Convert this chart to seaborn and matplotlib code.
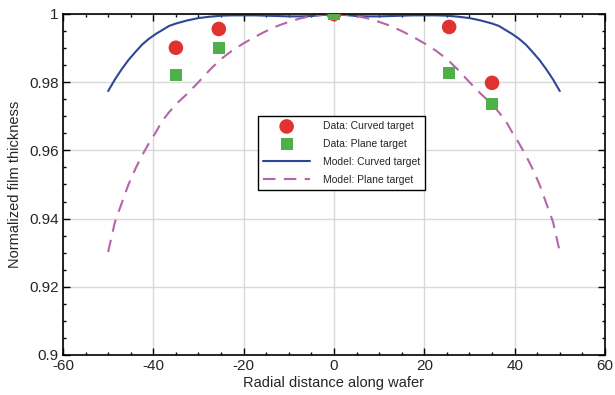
import numpy as np
import pandas as pd
import matplotlib
matplotlib.use("Agg")
import matplotlib.pyplot as plt
import seaborn as sns
from matplotlib.ticker import MultipleLocator, FuncFormatter

# Measured data
data_x = [-35, -25.5, 0, 25.5, 35]
data_curved = [0.9901, 0.9956, 1.0, 0.9962, 0.9798]
data_plane = [0.9821, 0.9900, 1.0, 0.9827, 0.9736]

# Model curves (symmetric about 0)
model_x = [-50, -48.5, -47, -45.5, -44, -42.5, -41, -39.5, -38, -36.5, -35,
           -32.5, -30, -27.5, -25, -22.5, -20, -17.5, -15, -12.5, -10, -7.5, -5, -2.5, 0,
           2.5, 5, 7.5, 10, 12.5, 15, 17.5, 20, 22.5, 25, 27.5, 30, 32.5,
           35, 36.5, 38, 39.5, 41, 42.5, 44, 45.5, 47, 48.5, 50]
model_curved = [0.9774, 0.9808, 0.9838, 0.9865, 0.9888, 0.9910, 0.9927, 0.9941,
                0.9953, 0.9965, 0.9972,
                0.9981, 0.9988, 0.9992, 0.9995, 0.9996, 0.9996, 0.9996, 0.9995,
                0.9994, 0.9993, 0.9993, 0.9994, 0.9997, 1.0,
                0.9997, 0.9994, 0.9993, 0.9993, 0.9994, 0.9995, 0.9996, 0.9996,
                0.9996, 0.9995, 0.9992, 0.9988, 0.9981,
                0.9972, 0.9965, 0.9953, 0.9941, 0.9927, 0.9910, 0.9888, 0.9865,
                0.9838, 0.9808, 0.9774]
model_plane = [0.9302, 0.9390, 0.9445, 0.9500, 0.9545, 0.9585, 0.9620, 0.9652,
               0.9687, 0.9712, 0.9735,
               0.9766, 0.9800, 0.9836, 0.9868, 0.9893, 0.9914, 0.9933, 0.9950,
               0.9965, 0.9977, 0.9987, 0.9994, 0.9998, 1.0,
               0.9998, 0.9994, 0.9987, 0.9977, 0.9965, 0.9950, 0.9933, 0.9914,
               0.9893, 0.9868, 0.9836, 0.9800, 0.9766,
               0.9735, 0.9712, 0.9687, 0.9652, 0.9620, 0.9585, 0.9545, 0.9500,
               0.9445, 0.9390, 0.9302]

sns.set_theme(style="ticks")
plt.rcParams['font.family'] = ['Liberation Sans', 'DejaVu Sans']

fig = plt.figure(figsize=(6.15, 3.95), dpi=100)
ax = fig.add_axes([0.1024, 0.1013, 0.9837 - 0.1024, 0.9646 - 0.1013])

red = "#e0332f"
green = "#4fb04a"
blue = "#2d4796"
pink = "#b565a8"

sns.lineplot(x=model_x, y=model_curved, ax=ax, color=blue, lw=1.5,
             label="Model: Curved target", sort=False)
sns.lineplot(x=model_x, y=model_plane, ax=ax, color=pink, lw=1.5,
             label="Model: Plane target", sort=False)
ax.lines[-1].set_dashes([6, 4])
sns.scatterplot(x=data_x, y=data_curved, ax=ax, color=red, marker="o", s=110,
                edgecolor="none", label="Data: Curved target", zorder=3)
sns.scatterplot(x=data_x, y=data_plane, ax=ax, color=green, marker="s", s=75,
                edgecolor="none", label="Data: Plane target", zorder=3)

ax.set_xlim(-60, 60)
ax.set_ylim(0.9, 1.0)
ax.xaxis.set_major_locator(MultipleLocator(20))
ax.xaxis.set_minor_locator(MultipleLocator(5))
ax.yaxis.set_major_locator(MultipleLocator(0.02))
ax.yaxis.set_minor_locator(MultipleLocator(0.005))
ax.xaxis.set_major_formatter(FuncFormatter(lambda v, p: "%g" % round(v, 4)))
ax.yaxis.set_major_formatter(FuncFormatter(lambda v, p: "%g" % round(v, 4)))
ax.grid(True, which="major", color="#d9d9d9", lw=1)
ax.set_axisbelow(True)
ax.tick_params(which="both", direction="in", top=True, right=True, color="black",
               labelsize=11, pad=3)
ax.tick_params(which="major", length=5, width=1)
ax.tick_params(which="minor", length=2.5, width=1)
for s in ax.spines.values():
    s.set_visible(True)
    s.set_color("black")
    s.set_linewidth(1.2)

ax.set_xlabel("Radial distance along wafer", fontsize=10.5, labelpad=2)
ax.set_ylabel("Normalized film thickness", fontsize=10.5, labelpad=5)

handles, labels = ax.get_legend_handles_labels()
order = [labels.index(l) for l in ["Data: Curved target", "Data: Plane target",
                                   "Model: Curved target", "Model: Plane target"]]
leg = ax.legend([handles[i] for i in order], [labels[i] for i in order],
                loc="upper left", bbox_to_anchor=(0.3598, 0.7009),
                borderaxespad=0,
                fontsize=7.5, frameon=True, fancybox=False, framealpha=1,
                edgecolor="black", handlelength=4.5, labelspacing=0.75,
                borderpad=0.5, handletextpad=1.2)
leg.get_frame().set_linewidth(1.0)

fig.savefig("out.png", dpi=100)
